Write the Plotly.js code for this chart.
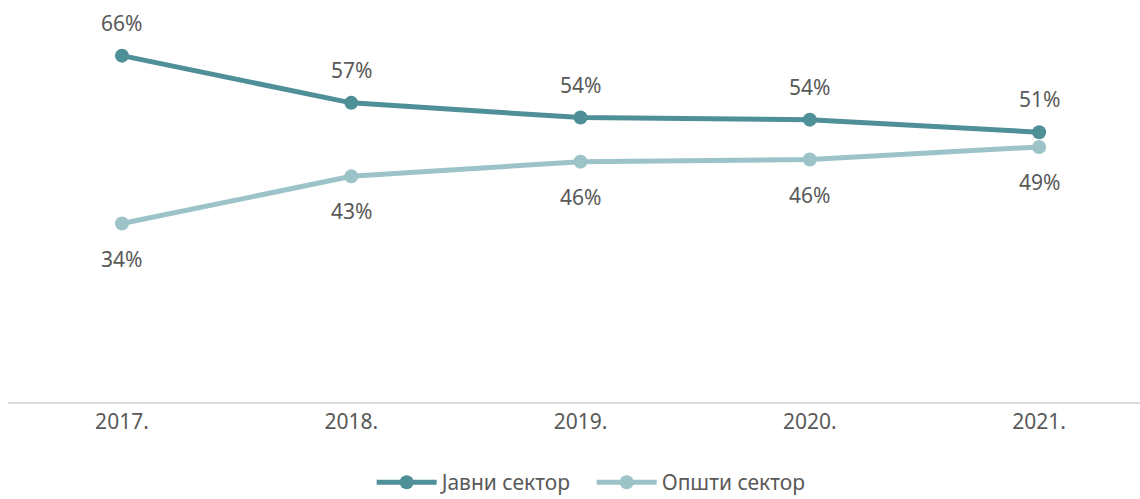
<!DOCTYPE html>
<html><head><meta charset="utf-8">
<script src="https://cdn.plot.ly/plotly-3.0.1.min.js"></script>
<style>html,body{margin:0;padding:0;background:#fff}#c{width:1140px;height:499px}</style>
</head><body><div id="c"></div>
<script>
const years = ['2017.', '2018.', '2019.', '2020.', '2021.'];
const javni = [66, 57, 54.2, 53.8, 51.4];
const opsti = [34, 43, 45.8, 46.2, 48.6];
const nameJavni = 'Јавни сектор';
const nameOpsti = 'Општи сектор';
const cDark = '#4f8f98', cLight = '#9bc3c8';
const FAM = 'Noto Sans, Open Sans, sans-serif';
const mkFont = () => ({family: FAM, size: 21, color: '#595959'});

const traces = [
  {x: years, y: javni, name: nameJavni, type: 'scatter', mode: 'lines+markers',
   line: {color: cDark, width: 5}, marker: {color: cDark, size: 14}},
  {x: years, y: opsti, name: nameOpsti, type: 'scatter', mode: 'lines+markers',
   line: {color: cLight, width: 5}, marker: {color: cLight, size: 14}}
];
const ann = [];
years.forEach((y, i) => {
  ann.push({xref: 'x', yref: 'y', x: i, y: javni[i], text: Math.round(javni[i]) + '%', showarrow: false, yshift: 33, font: mkFont()});
  ann.push({xref: 'x', yref: 'y', x: i, y: opsti[i], text: Math.round(opsti[i]) + '%', showarrow: false, yshift: -35, font: mkFont()});
});
const layout = {
  width: 1140, height: 499,
  margin: {l: 8, r: 0, t: 0, b: 97, autoexpand: false},
  paper_bgcolor: '#fff', plot_bgcolor: '#fff',
  font: mkFont(),
  showlegend: true,
  legend: {orientation: 'h', xref: 'container', x: 0.519, xanchor: 'center', yref: 'container', y: 0.033, yanchor: 'middle',
           font: mkFont(), itemwidth: 60, entrywidth: 145, tracegroupgap: 0},
  xaxis: {type: 'category', range: [-0.497, 4.44], showgrid: false, zeroline: false,
          showline: true, linecolor: '#d9d9d9', linewidth: 2, ticks: '', tickfont: mkFont(), automargin: false},
  yaxis: {range: [0, 76.6], showticklabels: false, showgrid: false, zeroline: false, showline: false, ticks: '', automargin: false},
  annotations: ann
};
Plotly.newPlot('c', traces, layout, {displayModeBar: false, staticPlot: true});
</script></body></html>
